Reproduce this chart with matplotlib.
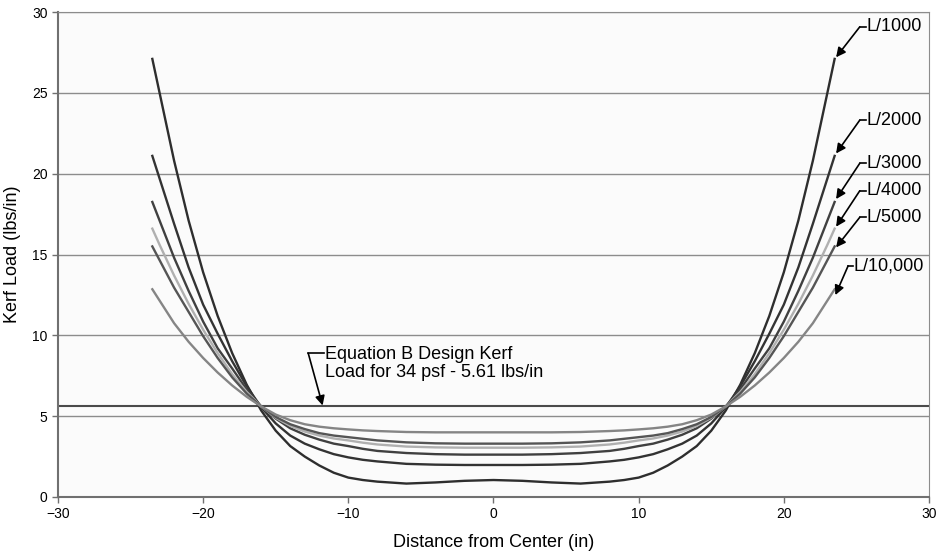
import numpy as np
import matplotlib
matplotlib.use('Agg')
import matplotlib.pyplot as plt

plt.rcParams['font.family'] = ['Liberation Sans', 'DejaVu Sans']

# distance from center (in), right half; the curves are symmetric about 0
x_half = [0, 2, 4, 6, 8, 9, 10, 11, 12, 13, 14, 15, 16, 17, 18, 19, 20, 21, 22, 23, 23.5]

# kerf load (lbs/in)
load_1000 = [1.05, 1.0, 0.9, 0.83, 0.95, 1.05, 1.2, 1.5, 1.95, 2.5, 3.15, 4.1, 5.35, 6.95, 8.9, 11.2, 13.9, 17.1, 20.8, 25.0, 27.1]
load_2000 = [1.98, 1.98, 2.0, 2.05, 2.2, 2.3, 2.45, 2.65, 2.95, 3.3, 3.8, 4.55, 5.55, 6.85, 8.4, 10.1, 11.9, 14.2, 16.9, 19.7, 21.1]
load_3000 = [2.62, 2.62, 2.65, 2.72, 2.85, 2.98, 3.15, 3.3, 3.55, 3.85, 4.25, 4.85, 5.6, 6.65, 7.95, 9.2, 10.85, 12.75, 14.8, 17.1, 18.25]
load_4000 = [3.05, 3.05, 3.07, 3.12, 3.25, 3.36, 3.5, 3.62, 3.8, 4.05, 4.4, 4.9, 5.6, 6.5, 7.6, 8.9, 10.35, 11.95, 13.7, 15.6, 16.6]
load_5000 = [3.3, 3.3, 3.32, 3.38, 3.5, 3.6, 3.7, 3.8, 3.95, 4.2, 4.5, 4.95, 5.6, 6.4, 7.4, 8.6, 9.95, 11.45, 12.95, 14.65, 15.5]
load_10000 = [4.0, 4.0, 4.0, 4.02, 4.08, 4.12, 4.18, 4.25, 4.35, 4.5, 4.75, 5.1, 5.6, 6.2, 6.9, 7.7, 8.6, 9.6, 10.75, 12.15, 12.85]

design_load = 5.61

labels = ['L/1000', 'L/2000', 'L/3000', 'L/4000', 'L/5000', 'L/10,000']
colors = ['#2e2e2e', '#333333', '#404040', '#b0b0b0', '#555555', '#858585']
series = [load_1000, load_2000, load_3000, load_4000, load_5000, load_10000]

# label positions (text y, arrow tip y)
label_y = [29.08, 23.31, 20.64, 18.94, 17.3, 14.3]
tip_y = [27.2, 21.25, 18.43, 16.72, 15.44, 12.49]

def mirror(vals):
    return list(vals[:0:-1]) + list(vals)

x_full = [-v for v in x_half[:0:-1]] + list(x_half)

fig = plt.figure(figsize=(9.38, 5.54), dpi=100)
fig.patch.set_facecolor('white')
ax = fig.add_axes([0.0618, 0.1029, 0.9286, 0.8754])
ax.set_facecolor('#fbfbfb')

ax.set_xlim(-30, 30)
ax.set_ylim(0, 30)
ax.set_xticks(range(-30, 31, 10))
ax.set_yticks(range(0, 31, 5))
ax.yaxis.grid(True, color='#8c8c8c', lw=1.0)
ax.set_axisbelow(True)
for s in ['top', 'right']:
    ax.spines[s].set_color('#8c8c8c')
for s in ['left', 'bottom']:
    ax.spines[s].set_color('#707070')
    ax.spines[s].set_linewidth(1.5)
ax.tick_params(axis='both', labelsize=10, length=4, color='#707070', width=1)

ax.axhline(design_load, color='#4a4a4a', lw=1.5, zorder=2)

for vals, c in zip(series, colors):
    ax.plot(x_full, mirror(vals), color=c, lw=1.7, zorder=3)

# callouts on the right
for i, lab in enumerate(labels):
    if lab == 'L/10,000':
        corner_x, text_x, tip_x = 24.43, 24.74, 23.55
    else:
        corner_x, text_x, tip_x = 25.23, 25.65, 23.6
    ax.plot([text_x, corner_x], [label_y[i], label_y[i]], color='black', lw=1.2, clip_on=False)
    ax.annotate('', xy=(tip_x, tip_y[i]), xytext=(corner_x, label_y[i]),
                arrowprops=dict(arrowstyle='-|>', color='black', lw=1.2, mutation_scale=14,
                                shrinkA=0, shrinkB=0), annotation_clip=False)
    ax.text(text_x + 0.05, label_y[i], lab, fontsize=13, va='center', ha='left', clip_on=False)

# design load callout
ax.plot([-11.68, -12.76], [8.89, 8.89], color='black', lw=1.2)
ax.annotate('', xy=(-11.77, design_load + 0.05), xytext=(-12.76, 8.89),
            arrowprops=dict(arrowstyle='-|>', color='black', lw=1.2, mutation_scale=14,
                            shrinkA=0, shrinkB=0))
ax.text(-11.6, 8.84, 'Equation B Design Kerf', fontsize=13, va='center', ha='left')
ax.text(-11.6, 7.71, 'Load for 34 psf - 5.61 lbs/in', fontsize=13, va='center', ha='left')

ax.set_xlabel('Distance from Center (in)', fontsize=13, labelpad=9)
ax.set_ylabel('Kerf Load (lbs/in)', fontsize=13, labelpad=8)

fig.savefig('out.png', dpi=100, facecolor=fig.get_facecolor())
